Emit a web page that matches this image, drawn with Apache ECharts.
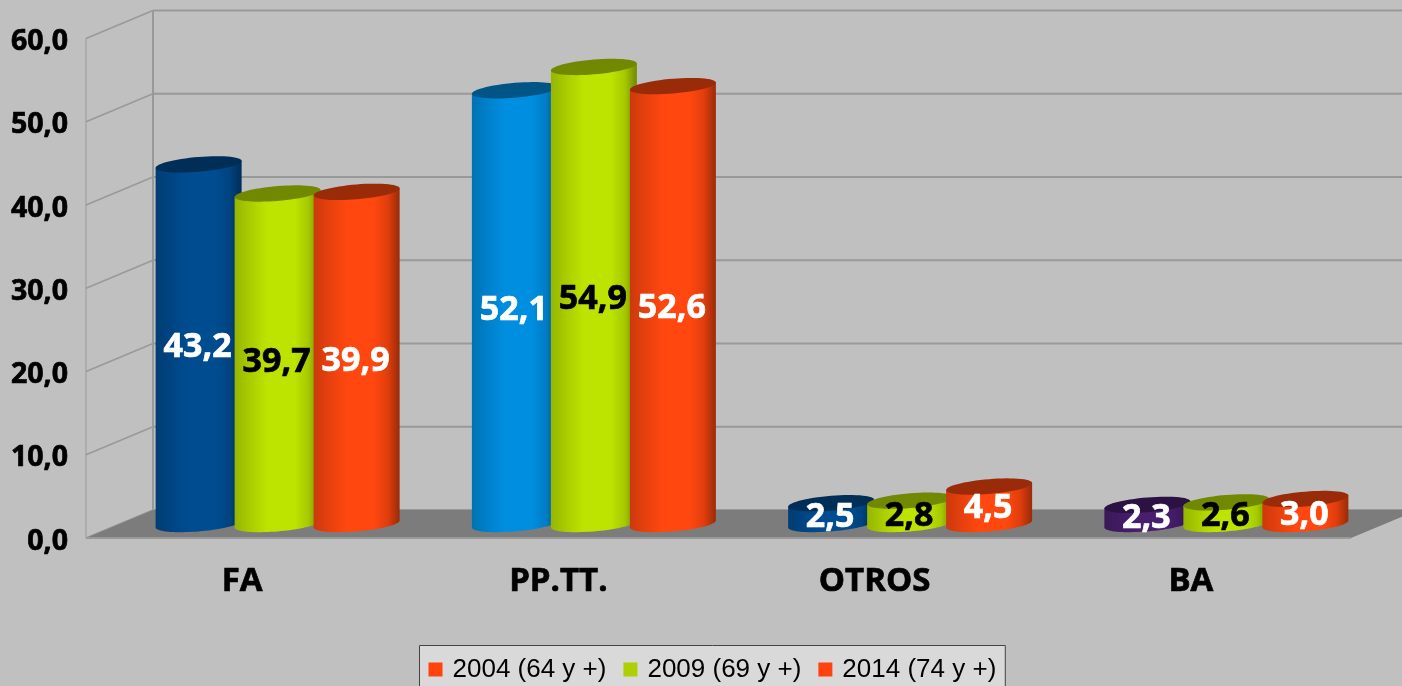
<!DOCTYPE html>
<html><head><meta charset="utf-8">
<style>html,body{margin:0;padding:0;background:#c0c0c0;overflow:hidden}#c{width:1402px;height:686px}</style>
<script src="https://cdn.jsdelivr.net/npm/echarts@6/dist/echarts.min.js"></script>
</head><body><div id="c"></div>
<script>
const categories = ['FA', 'PP.TT.', 'OTROS', 'BA'];
const yTicks = [0, 10, 20, 30, 40, 50, 60];
const seriesNames = ['2004 (64 y +)', '2009 (69 y +)', '2014 (74 y +)'];
const values2004 = [43.2, 52.1, 2.5, 2.3];
const values2009 = [39.7, 54.9, 2.8, 2.6];
const values2014 = [39.9, 52.6, 4.5, 3.0];
const colors2004 = ['#004c90', '#008ee0', '#004c90', '#481e6e'];
const colors2009 = ['#bce400', '#bce400', '#bce400', '#bce400'];
const colors2014 = ['#ff470f', '#ff470f', '#ff470f', '#ff470f'];
const labelColors = ['#ffffff', '#000000', '#ffffff'];
const legendColors = ['#ff420e', '#aecf00', '#ff420e'];

const FONT = '"Open Sans", sans-serif';
const DEPTH_X = 67, DEPTH_Y = 28;

function shade(hex, f) {
  const n = parseInt(hex.slice(1), 16);
  const c = [(n >> 16) & 255, (n >> 8) & 255, n & 255].map(v => Math.round(v * f));
  return 'rgb(' + c.join(',') + ')';
}
const RX = 43, RY = 7.4, SKEW = 3.5, PITCH = 79, OFFSET = 33.5, BASE = 14;
function ell(cx, cy, t) {
  return [cx + RX * Math.cos(t), cy + RY * Math.sin(t) - SKEW * Math.cos(t)];
}
function cylinderRenderer(idx, colors) {
  return function (params, api) {
    const base = api.coord([api.value(0), 0]);
    const top = api.coord([api.value(0), api.value(1)]);
    const cx = base[0] + OFFSET + (idx - 1) * PITCH;
    const yB = base[1] - BASE, yT = top[1] - BASE;
    const col = colors[params.dataIndex];
    const pts = [];
    for (let i = 0; i <= 40; i++) pts.push(ell(cx, yB, Math.PI - Math.PI * i / 40));
    pts.push(ell(cx, yT, 0), ell(cx, yT, Math.PI));
    const cap = [];
    for (let i = 0; i < 60; i++) cap.push(ell(cx, yT, 2 * Math.PI * i / 60));
    const grad = new echarts.graphic.LinearGradient(0, 0, 1, 0, [
      { offset: 0, color: shade(col, 0.8) },
      { offset: 0.18, color: shade(col, 0.9) },
      { offset: 0.38, color: col },
      { offset: 0.7, color: col },
      { offset: 0.86, color: shade(col, 0.88) },
      { offset: 1, color: shade(col, 0.6) }
    ]);
    return {
      type: 'group',
      children: [
        { type: 'polygon', shape: { points: pts }, style: { fill: grad } },
        { type: 'polygon', shape: { points: cap }, style: { fill: shade(col, 0.6) } },
        { type: 'text', style: {
            text: api.value(1).toFixed(1).replace('.', ','),
            x: cx - 1, y: (yB + yT) / 2 + 3.5,
            align: 'center', verticalAlign: 'middle',
            font: 'bold 34px ' + FONT, fill: labelColors[idx],
            stroke: labelColors[idx], lineWidth: 0.7 } }
      ]
    };
  };
}
function floorRenderer(params, api) {
  const a = api.coord([0, 0]);
  const s = api.size([1, 0]);
  const left = a[0] - s[0] / 2, right = left + s[0] * categories.length, y = a[1];
  return { type: 'group', children: [
    { type: 'polygon', shape: { points: [[left, y], [right, y], [right + DEPTH_X, y - DEPTH_Y], [left + DEPTH_X, y - DEPTH_Y]] },
      style: { fill: '#7c7c7c' } },
    { type: 'line', shape: { x1: left, y1: y, x2: right, y2: y }, style: { stroke: '#9a9a9a', lineWidth: 2 } }
  ]};
}
function wallRenderer(params, api) {
  const a = api.coord([0, api.value(0)]);
  const s = api.size([1, 0]);
  const left = a[0] - s[0] / 2, right = left + s[0] * categories.length, y = a[1];
  const kids = [
    { type: 'line', shape: { x1: left, y1: y, x2: left + DEPTH_X, y2: y - DEPTH_Y }, style: { stroke: '#999999', lineWidth: 1.6 } },
    { type: 'line', shape: { x1: left + DEPTH_X, y1: y - DEPTH_Y, x2: right + DEPTH_X, y2: y - DEPTH_Y }, style: { stroke: '#999999', lineWidth: 2 } }
  ];
  if (params.dataIndex === 0) {
    const t = api.coord([0, yTicks[yTicks.length - 1]]);
    kids.push(
      { type: 'line', shape: { x1: left, y1: y, x2: left, y2: t[1] }, style: { stroke: '#999999', lineWidth: 1 } },
      { type: 'line', shape: { x1: left + DEPTH_X, y1: y - DEPTH_Y, x2: left + DEPTH_X, y2: t[1] - DEPTH_Y }, style: { stroke: '#999999', lineWidth: 2 } }
    );
  }
  return { type: 'group', children: kids };
}
const pairs = arr => arr.map((v, i) => [i, v]);
const chart = echarts.init(document.getElementById('c'));
chart.setOption({
  animation: false,
  backgroundColor: '#c0c0c0',
  grid: { left: 86, top: 38.5, width: 1265, height: 499.5 },
  xAxis: { type: 'category', data: categories,
    axisLine: { show: false }, axisTick: { show: false }, splitLine: { show: false },
    axisLabel: { margin: 27, color: '#000', fontFamily: FONT, fontWeight: 'bold', fontSize: 33,
      textBorderColor: '#000', textBorderWidth: 0.7, padding: [0, 4, 0, 0] } },
  yAxis: { type: 'value', min: 0, max: 60, interval: 10,
    axisLine: { show: false }, axisTick: { show: false }, splitLine: { show: false },
    axisLabel: { margin: 18, color: '#000', fontFamily: FONT, fontWeight: 'bold', fontSize: 28.5,
      textBorderColor: '#000', textBorderWidth: 0.7, verticalAlign: 'top', lineHeight: 7,
      formatter: v => v.toFixed(1).replace('.', ',') } },
  legend: {
    data: seriesNames, left: 419.5, top: 645.5, orient: 'horizontal',
    icon: 'rect', itemWidth: 14, itemHeight: 14, itemGap: 17,
    backgroundColor: '#d9d9d9', borderColor: '#444444', borderWidth: 1,
    padding: [11, 9, 14, 9], selectedMode: false,
    textStyle: { fontFamily: '"Liberation Sans", sans-serif', fontSize: 26, color: '#000', padding: [0, 0, 0, 5] }
  },
  series: [
    { type: 'custom', name: 'walls', data: yTicks.map(v => [v]), renderItem: wallRenderer, z: 1, silent: true, encode: { y: 0 } },
    { type: 'custom', name: 'floor', data: [[0]], renderItem: floorRenderer, z: 2, silent: true, encode: { x: 0 } },
    { type: 'custom', name: seriesNames[0], data: pairs(values2004), renderItem: cylinderRenderer(0, colors2004), z: 3, itemStyle: { color: legendColors[0] }, encode: { x: 0, y: 1 } },
    { type: 'custom', name: seriesNames[1], data: pairs(values2009), renderItem: cylinderRenderer(1, colors2009), z: 4, itemStyle: { color: legendColors[1] }, encode: { x: 0, y: 1 } },
    { type: 'custom', name: seriesNames[2], data: pairs(values2014), renderItem: cylinderRenderer(2, colors2014), z: 5, itemStyle: { color: legendColors[2] }, encode: { x: 0, y: 1 } }
  ]
});
</script></body></html>
